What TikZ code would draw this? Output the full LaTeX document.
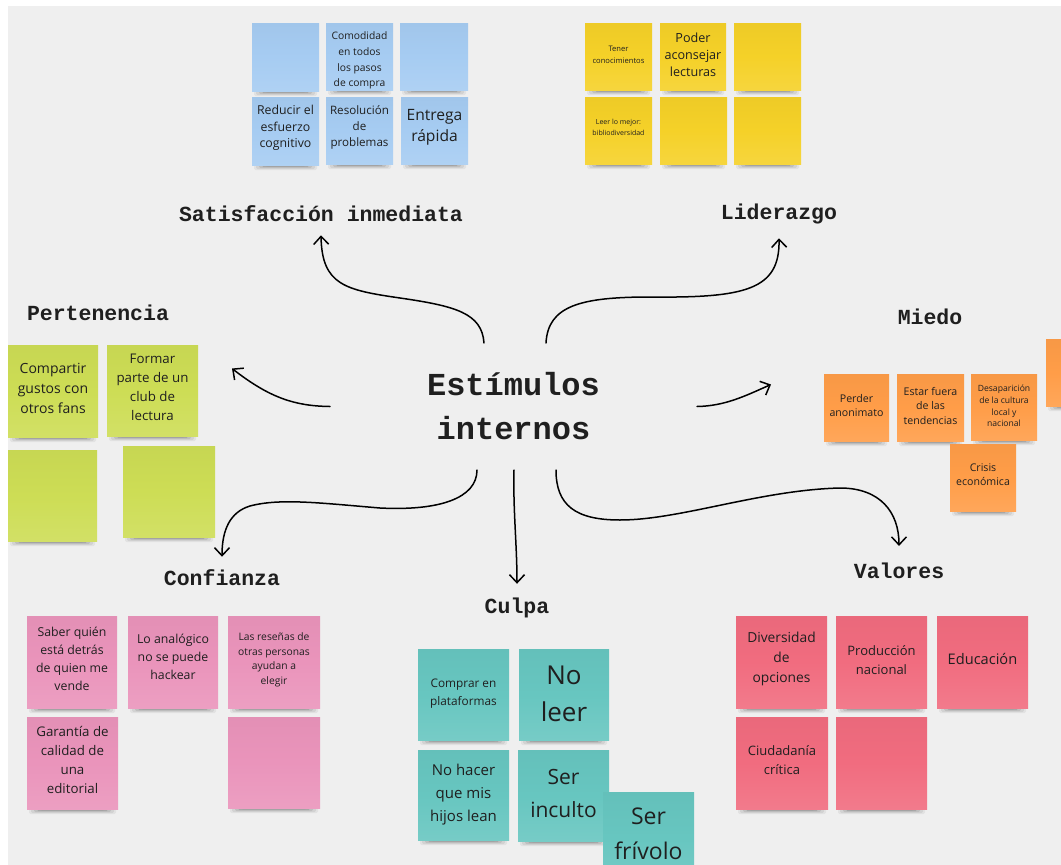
\documentclass[tikz,border=0pt]{standalone}
\usepackage{fontspec}
\setmainfont{Open Sans}
\newfontfamily\headfont{Liberation Mono}[BoldFont={Liberation Mono Bold}]
\usetikzlibrary{arrows.meta}
\definecolor{bgc}{HTML}{EFEFEF}
\definecolor{inkc}{HTML}{1F1F1F}
\definecolor{nblue}{HTML}{A6CCF2}
\definecolor{nyellow}{HTML}{F5D128}
\definecolor{ngreen}{HTML}{CDDD55}
\definecolor{norange}{HTML}{FF9D48}
\definecolor{npink}{HTML}{EA94BB}
\definecolor{nteal}{HTML}{67C6C0}
\definecolor{nred}{HTML}{F16C7F}
\tikzset{
  notebody/.style={inner sep=0pt,outer sep=0pt,top color=#1!97!black,bottom color=#1!90!white,middle color=#1},
  notelabel/.style={inner sep=0pt,align=center,text=inkc},
  headlabel/.style={font=\headfont\bfseries\fontsize{21.5}{24}\selectfont,text=inkc,inner sep=0pt},
  arrowline/.style={draw=black,line width=1.5pt,line cap=round,-{Straight Barb[length=8pt,width=15pt,line width=1.5pt]}},
}
% \notebox{name}{x0}{y0}{x1}{y1}{colour}
\newcommand{\notebox}[6]{%
  \pgfmathsetmacro{\nw}{#4-#2}\pgfmathsetmacro{\nh}{#5-#3}%
  \foreach \ins/\ex/\op in {2/5/.05,4/4/.07,7/3/.09,10/2/.12,13/1/.16}{
    \fill[black,opacity=\op,rounded corners=1.5pt] (#2+\ins,#5-2) rectangle (#4-\ins,#5+\ex);
  }
  \node[notebody=#6,minimum width=\nw pt,minimum height=\nh pt,anchor=north west] (#1) at (#2,#3) {};
}
% \notetext{name}{shift down}{size}{leading}{text}
\newcommand{\notetext}[5]{%
  \node[notelabel,font=\fontsize{#3}{#4}\selectfont] (#1-t) at ([yshift=-#2 pt]#1.center) {#5};
}
\begin{document}
\begin{tikzpicture}[x=1pt,y=-1pt]
\useasboundingbox (0,0) rectangle (1061,865);
\clip (0,0) rectangle (1061,865);
\fill[white] (0,0) rectangle (1061,865);
\fill[bgc] (8,6) rectangle (1061,865);

% Satisfaccion
\notebox{b1}{252}{23}{319}{91}{nblue}
\notebox{b2}{326}{23}{393}{90}{nblue}
\notetext{b2}{4}{10.3}{15.8}{Comodidad\\en todos\\los pasos\\de compra}
\notebox{b3}{400}{23}{468}{90}{nblue}
\notebox{b4}{252}{97}{319}{165}{nblue}
\notetext{b4}{-3}{12.3}{16.2}{Reducir el\\esfuerzo\\cognitivo}
\notebox{b5}{326}{97}{393}{164}{nblue}
\notetext{b5}{-3}{11.6}{15.8}{Resolución\\de\\problemas}
\notebox{b6}{401}{97}{468}{164}{nblue}
\notetext{b6}{-3}{15.6}{21}{Entrega\\rápida}
% Liderazgo
\notebox{y1}{585}{23}{652}{90}{nyellow}
\notetext{y1}{-2}{7.6}{12}{Tener\\conocimientos}
\notebox{y2}{660}{23}{726}{90}{nyellow}
\notetext{y2}{-2}{12.6}{17}{Poder\\aconsejar\\lecturas}
\notebox{y3}{734}{23}{801}{90}{nyellow}
\notebox{y4}{585}{97}{652}{164}{nyellow}
\notetext{y4}{-3}{7}{11}{Leer lo mejor:\\bibliodiversidad}
\notebox{y5}{660}{97}{727}{164}{nyellow}
\notebox{y6}{734}{97}{801}{164}{nyellow}
% Pertenencia
\notebox{g1}{8}{345}{98}{437}{ngreen}
\notetext{g1}{-3}{14}{20}{Compartir\\gustos con\\otros fans}
\notebox{g2}{107}{345}{198}{436}{ngreen}
\notetext{g2}{-3}{13.3}{19}{Formar\\parte de un\\club de\\lectura}
\notebox{g3}{8}{450}{97}{541}{ngreen}
\notebox{g4}{123}{446}{215}{537}{ngreen}
% Miedo
\notebox{o1}{824}{374}{889}{441}{norange}
\notetext{o1}{-2}{10.6}{14.5}{Perder\\anonimato}
\notebox{o2}{897}{374}{964}{441}{norange}
\notetext{o2}{-2}{10.6}{14.5}{Estar fuera\\de las\\tendencias}
\notebox{o3}{971}{374}{1037}{440}{norange}
\notetext{o3}{-1}{8.6}{11.7}{Desaparición\\de la cultura\\local y\\nacional}
\notebox{o4}{950}{444}{1016}{511}{norange}
\notetext{o4}{-3}{10.6}{14.5}{Crisis\\económica}
\notebox{o5}{1046}{339}{1075}{406}{norange}
% Confianza
\notebox{p1}{27}{616}{117}{708}{npink}
\notetext{p1}{-3}{12.3}{17.8}{Saber quién\\está detrás\\de quien me\\vende}
\notebox{p2}{128}{616}{218}{708}{npink}
\notetext{p2}{-5}{12.3}{17.8}{Lo analógico\\no se puede\\hackear}
\notebox{p3}{228}{616}{320}{708}{npink}
\notetext{p3}{-2}{10.3}{14.6}{Las reseñas de\\otras personas\\ayudan a\\elegir}
\notebox{p4}{27}{717}{118}{809}{npink}
\notetext{p4}{-3}{13.3}{18.8}{Garantía de\\calidad de\\una\\editorial}
\notebox{p5}{228}{717}{320}{808}{npink}
% Culpa
\notebox{t1}{418}{649}{509}{740}{nteal}
\notetext{t1}{-1}{11.8}{17.5}{Comprar en\\plataformas}
\notebox{t2}{519}{649}{609}{740}{nteal}
\notetext{t2}{-1}{26}{37}{No\\leer}
\notebox{t3}{418}{750}{509}{840}{nteal}
\notetext{t3}{0}{15}{23}{No hacer\\que mis\\hijos lean}
\notebox{t4}{518}{750}{609}{841}{nteal}
\notetext{t4}{-2}{21}{33}{Ser\\inculto}
\notebox{t5}{603}{792}{694}{883}{nteal}
\notetext{t5}{-4}{23}{35}{Ser\\frívolo}
% Valores
\notebox{r1}{736}{616}{827}{708}{nred}
\notetext{r1}{-3}{13.8}{20}{Diversidad\\de\\opciones}
\notebox{r2}{836}{616}{927}{708}{nred}
\notetext{r2}{-2}{13}{19}{Producción\\nacional}
\notebox{r3}{937}{616}{1028}{708}{nred}
\notetext{r3}{-3}{14.6}{20}{Educación}
\notebox{r4}{736}{717}{828}{809}{nred}
\notetext{r4}{-3}{13}{19}{Ciudadanía\\crítica}
\notebox{r5}{836}{717}{927}{809}{nred}

% Headings
\node[headlabel] (hsat) at (321,214) {Satisfacción inmediata};
\node[headlabel] (hlid) at (779,214) {Liderazgo};
\node[headlabel] (hper) at (98,313) {Pertenencia};
\node[headlabel] (hmie) at (930,317) {Miedo};
\node[headlabel] (hcon) at (222,578) {Confianza};
\node[headlabel] (hcul) at (517,608) {Culpa};
\node[headlabel] (hval) at (899,571) {Valores};

% Title: its box reaches the start of every arrow
\node[inner sep=0pt,outer sep=0pt,minimum width=367pt,minimum height=127pt,align=center,text=inkc,
  font=\headfont\bfseries\fontsize{32}{44}\selectfont] (title) at (513.5,406.5) {Estímulos\\internos};

% Connectors
\draw[arrowline] ([xshift=-29.5pt]title.north) .. controls (482,313) and (455,306) .. (400,298)
  .. controls (345,290) and (322,285) .. ([yshift=-13pt]hsat.south);
\draw[arrowline] ([xshift=32.5pt]title.north) .. controls (548,306) and (580,297) .. (650,297)
  .. controls (745,298) and (780,290) .. ([yshift=-14pt]hlid.south);
\draw[arrowline] (title.west) .. controls (295,406) and (270,398) .. ([xshift=34pt,yshift=22pt]g2.east);
\draw[arrowline] (title.east) .. controls (725,406) and (745,396) .. ([xshift=-53pt,yshift=23pt]o1.west);
\draw[arrowline] ([xshift=-36.5pt]title.south) .. controls (477,498) and (440,511) .. (380,508)
  .. controls (320,503) and (280,498) .. (250,506)
  .. controls (230,512) and (222,530) .. ([yshift=13pt]hcon.north);
\draw[arrowline] ([xshift=0.5pt]title.south) .. controls (513,510) and (517,545) .. ([yshift=14pt]hcul.north);
\draw[arrowline] ([xshift=42.5pt]title.south) .. controls (556,505) and (575,520) .. (620,520)
  .. controls (680,520) and (760,490) .. (840,488)
  .. controls (880,488) and (899,512) .. ([yshift=17pt]hval.north);
\end{tikzpicture}
\end{document}
